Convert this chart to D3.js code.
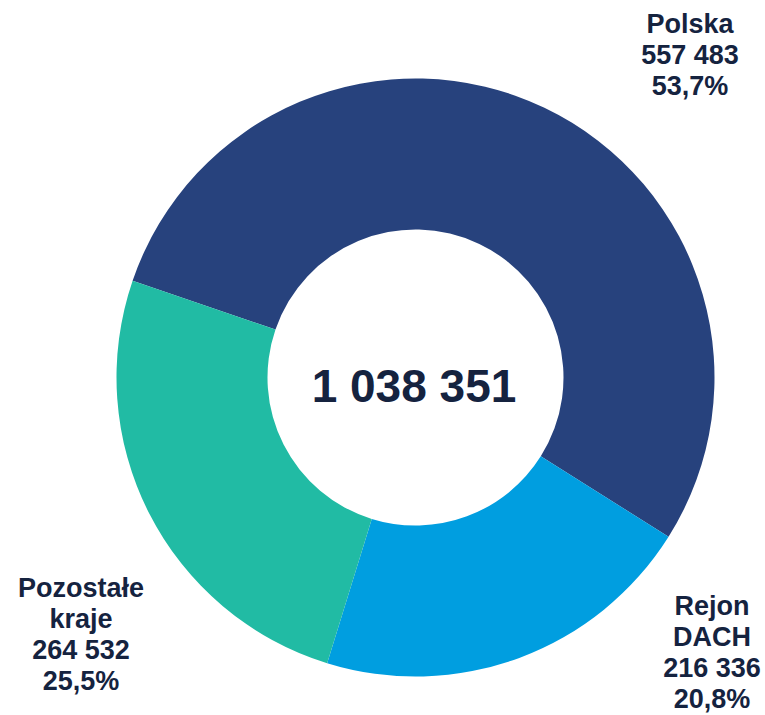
<!DOCTYPE html>
<html lang="pl">
<head>
	<meta charset="UTF-8">
	<title>Struktura - donut</title>
	<script src="https://cdn.jsdelivr.net/npm/d3@7/dist/d3.min.js"></script>
	<style>
		body {
			margin: 0;
			background: #fff;
		}
		.label {
			font-family: "Liberation Sans", Arial, sans-serif;
			font-weight: bold;
			fill: #15233f;
		}
	</style>
</head>
<body>
<script>
	var width = 765,
		height = 715;

	// data
	var regions = ["Polska", "Rejon DACH", "Pozostałe kraje"];
	var values = [557483, 216336, 264532];
	var labelLines = [["Polska"], ["Rejon", "DACH"], ["Pozostałe", "kraje"]];
	var colors = ["#27427d", "#009ee0", "#21bba4"];

	var total = d3.sum(values);

	var cx = 415.5, cy = 377.5,
		outerR = 299, innerR = 148;

	// polska starts at upper left
	var startA = -71.1 * Math.PI / 180;

	var pie = d3.pie()
		.sort(null)
		.value(function (d) { return d; })
		.startAngle(startA)
		.endAngle(startA + 2 * Math.PI);

	var arc = d3.arc()
		.innerRadius(innerR)
		.outerRadius(outerR);

	var svg = d3.select("body").append("svg")
		.attr("width", width)
		.attr("height", height);

	var g = svg.append("g")
		.attr("transform", "translate(" + cx + "," + cy + ")");

	g.selectAll("path")
		.data(pie(values))
		.enter().append("path")
		.attr("d", arc)
		.style("fill", function (d, i) { return colors[i]; });

	var fmt = function (v) {
		return d3.format(",")(v).replace(/,/g, " ");
	};
	var pct = function (v) {
		return d3.format(".1f")(v / total * 100).replace(".", ",") + "%";
	};

	// total in the middle
	svg.append("text")
		.attr("class", "label")
		.attr("x", cx - 1.5)
		.attr("y", cy + 24.5)
		.attr("text-anchor", "middle")
		.style("font-size", "46px")
		.text(fmt(total));

	// outside labels (anchor x, first baseline)
	var labelPos = [[690, 33], [712, 615], [81, 597]];
	var lineH = 31;

	regions.forEach(function (r, i) {
		var lines = labelLines[i].concat([fmt(values[i]), pct(values[i])]);
		var t = svg.append("text")
			.attr("class", "label")
			.attr("text-anchor", "middle")
			.style("font-size", "27px");
		lines.forEach(function (l, j) {
			t.append("tspan")
				.attr("x", labelPos[i][0])
				.attr("y", labelPos[i][1] + j * lineH)
				.text(l);
		});
	});
</script>
</body>
</html>
